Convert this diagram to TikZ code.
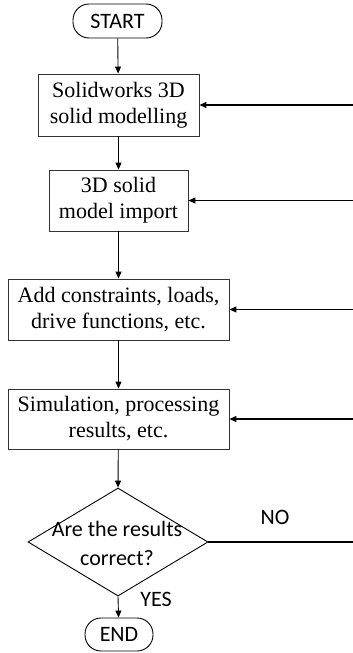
\documentclass[tikz,border=0pt]{standalone}
\usepackage{fontspec}
\setmainfont{Liberation Serif}
\newfontfamily\calib{Carlito}
\usetikzlibrary{shapes.geometric,arrows.meta}
\begin{document}
\begin{tikzpicture}[x=1pt,y=-1pt,
  procbox/.style={draw=black!80, line width=0.9pt, inner sep=0pt, align=center,
    font=\fontsize{22}{26}\selectfont},
  term/.style={draw=black, line width=0.9pt, rounded corners=16pt, inner sep=0pt,
    font=\calib\fontsize{22}{26}\selectfont},
  flow/.style={line width=0.9pt, -{Triangle[length=7pt,width=6pt]}},
  back/.style={line width=1.2pt, -{Triangle[length=7pt,width=6pt]}},
  lbl/.style={font=\calib\fontsize{22}{26}\selectfont, inner sep=0pt}]
\useasboundingbox (0,0) rectangle (353,653);
\node[term, minimum width=89pt, minimum height=34pt] (start) at (117.5,21) {START};
\node[procbox, minimum width=161pt, minimum height=62pt] (b1) at (118.5,105) {Solidworks 3D\\solid modelling};
\node[procbox, minimum width=139pt, minimum height=61pt] (b2) at (118.5,200.5) {3D solid\\model import};
\node[procbox, minimum width=221pt, minimum height=61pt] (b3) at (118.5,309.5) {Add constraints, loads,\\drive functions, etc.};
\node[procbox, minimum width=221pt, minimum height=60pt] (b4) at (118.5,419) {Simulation, processing\\results, etc.};
\node[diamond, draw=black, line width=0.9pt, inner sep=0pt, minimum width=180pt, minimum height=108pt] (dec) at (118,542) {};
\node[align=center, inner sep=0pt, font=\calib\fontsize{22}{29}\selectfont] (dectext) at (117,543) {Are the results\\correct?};
\node[term, minimum width=68pt, minimum height=33pt] (end) at (119,634.5) {END};
\node[lbl] (no) at (275,517) {NO};
\node[lbl] (yes) at (156,599) {YES};
\coordinate (f1) at (353,105);
\coordinate (f2) at (353,200.5);
\coordinate (f3) at (353,309.5);
\coordinate (f4) at (353,419);
\coordinate (f5) at (353,542);
\draw[flow] (start) -- (b1);
\draw[flow] (b1) -- (b2);
\draw[flow] (b2) -- (b3);
\draw[flow] (b3) -- (b4);
\draw[flow] (b4) -- (dec.north);
\draw[flow] (dec.south) -- (end);
\draw[line width=1.6pt] (dec.east) -- (f5);
\draw[back] (f1) -- (b1.east);
\draw[back] (f2) -- (b2.east);
\draw[back] (f3) -- (b3.east);
\draw[back] (f4) -- (b4.east);
\end{tikzpicture}
\end{document}
